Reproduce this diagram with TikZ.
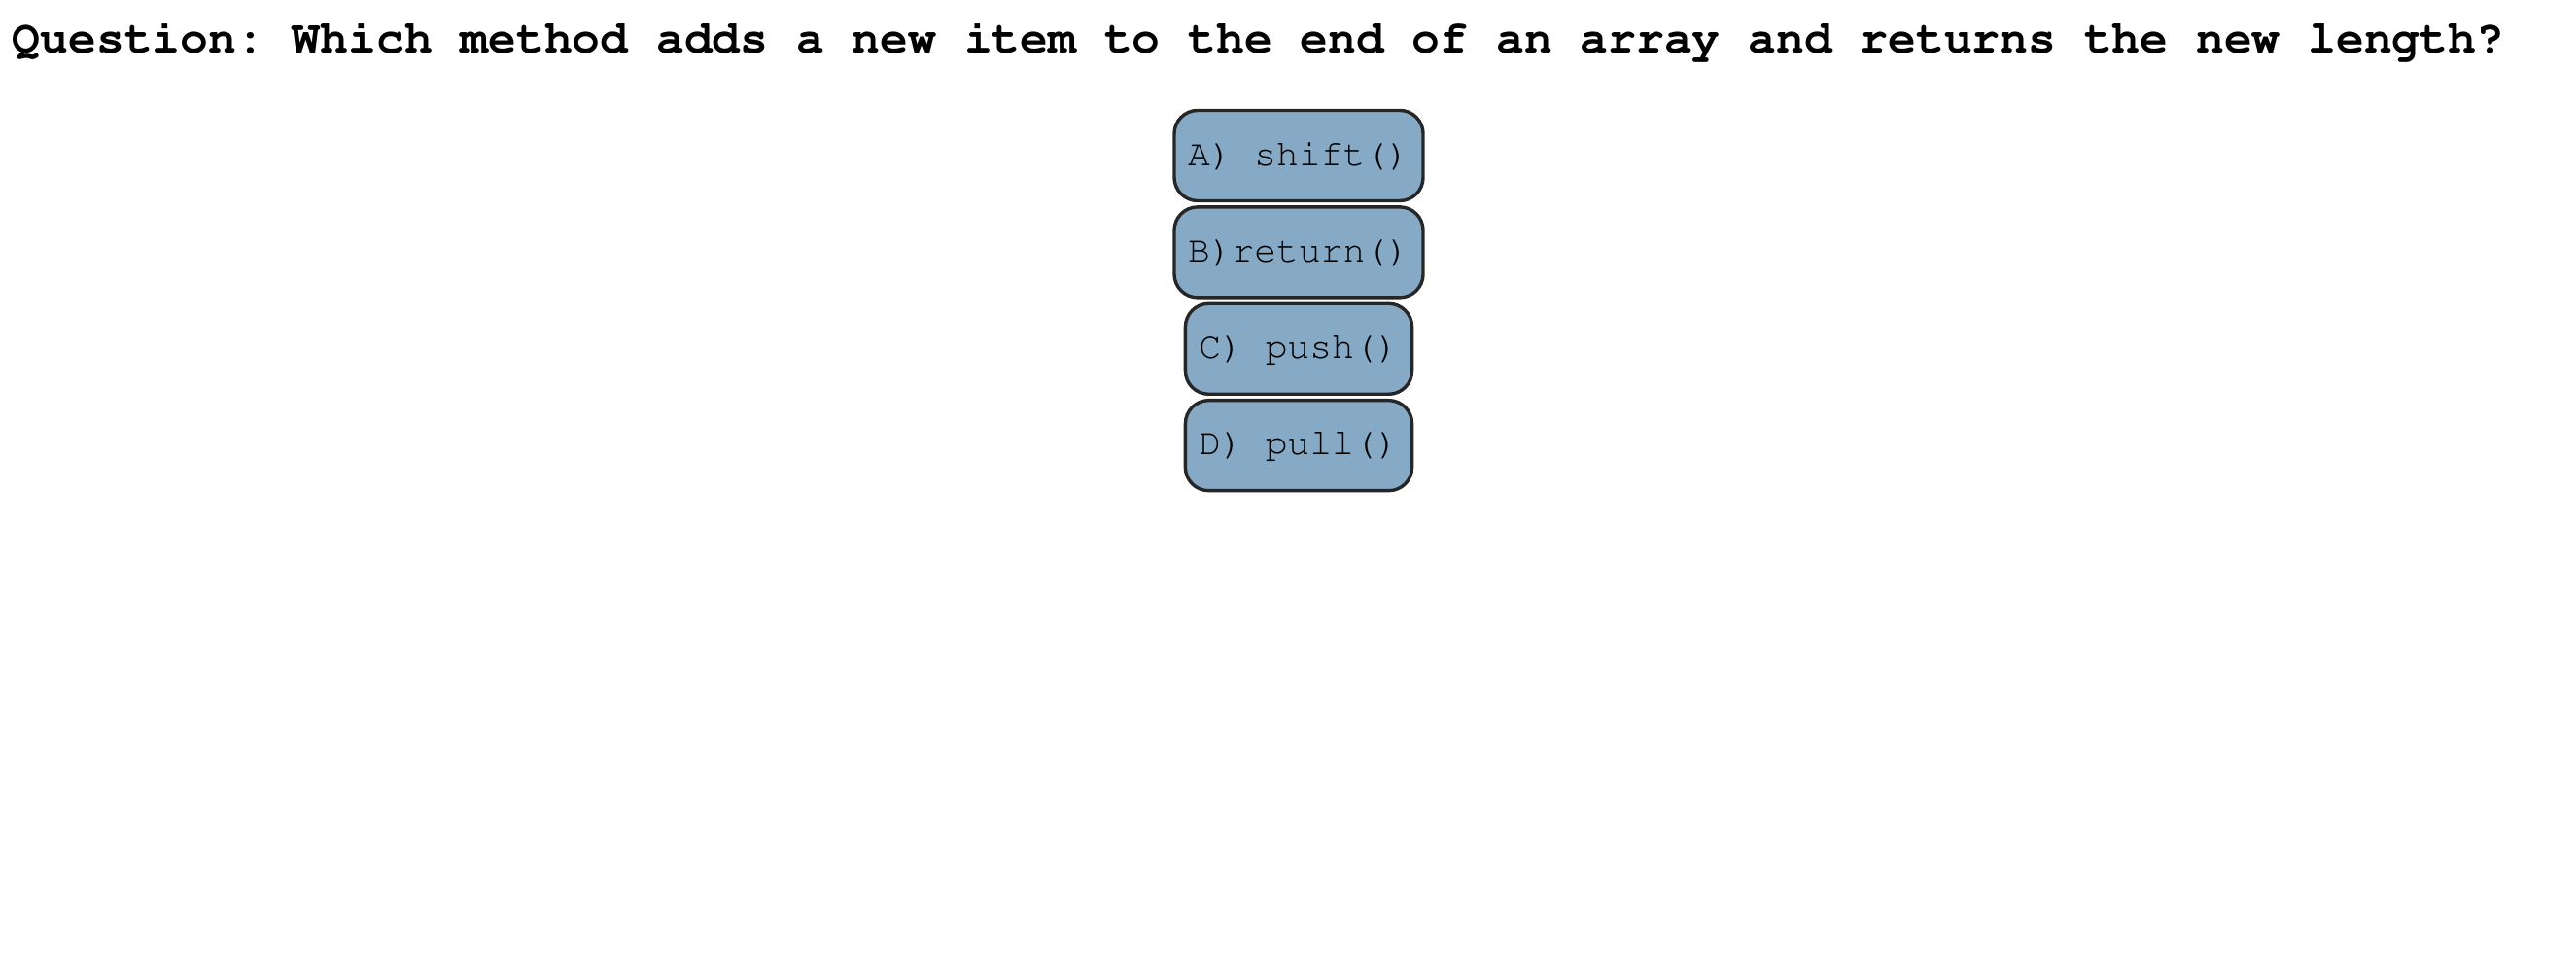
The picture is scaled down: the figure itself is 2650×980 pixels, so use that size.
\documentclass[tikz,border=0pt]{standalone}
\usepackage[T1]{fontenc}
\usepackage{courier}
\usetikzlibrary{positioning}
\definecolor{answerblue}{RGB}{134,169,197}

\begin{document}
\frenchspacing
\begin{tikzpicture}[x=0.25pt, y=-0.25pt,
    choice/.style={draw=black!85, line width=0.85pt, fill=answerblue,
        rounded corners=6pt, minimum height=23.25pt, inner xsep=3.5pt,
        font=\ttfamily\fontsize{9.5}{11}\selectfont},
    node distance=0.75pt]
    %canvas
    \useasboundingbox (0,0) rectangle (2650,980);
    %question
    \node[anchor=base west, inner sep=0,
        font=\ttfamily\bfseries\fontsize{12}{14}\selectfont] (question) at (12,55)
        {Question: Which method adds a new item to the end of an array and returns the new length?};
    %answers
    \node[choice] (optA) at (1336,160) {A) shift()};
    \node[choice, below=of optA] (optB) {B)return()};
    \node[choice, below=of optB] (optC) {C) push()};
    \node[choice, below=of optC] (optD) {D) pull()};
\end{tikzpicture}
\end{document}
